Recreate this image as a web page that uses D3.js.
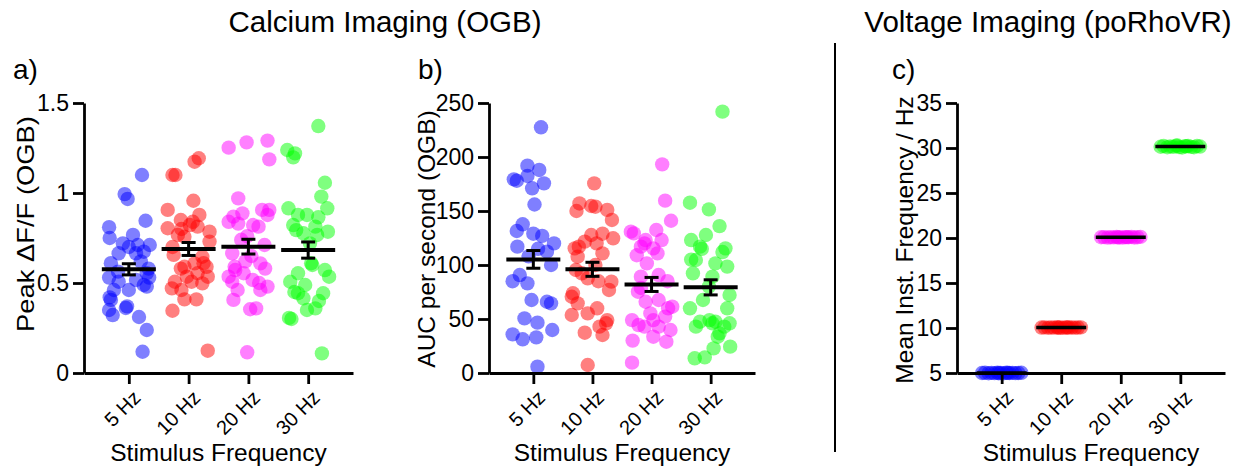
<!DOCTYPE html>
<html>
<head>
<meta charset="utf-8">
<script src="https://cdn.jsdelivr.net/npm/d3@7"></script>
<style>
  body { margin: 0; background: #fff; }
  text { font-family: "Liberation Sans", Arial, sans-serif; fill: #000; }
</style>
</head>
<body>
<svg id="chart" width="1243" height="467"></svg>
<script>
"use strict";

// Categories and colours
var categories = ["5 Hz", "10 Hz", "20 Hz", "30 Hz"];
var groupColors = ["#0000ff", "#ff0000", "#ff00ff", "#00ff00"];

// Panel a : peak dF/F, points are [value, horizontal jitter as fraction of the category step]
var peak5Hz = [[1.10,0.22],[0.994,-0.07],[0.967,-0.02],[0.846,0.28],[0.81,-0.33],[0.75,-0.32],[0.767,0.07],
  [0.72,-0.10],[0.711,0.15],[0.711,0.35],[0.665,-0.17],[0.665,0.12],[0.674,0.25],[0.70,0.0],[0.61,-0.30],
  [0.563,-0.18],[0.554,0.30],[0.517,0.12],[0.507,-0.17],[0.489,0.25],[0.461,-0.25],[0.461,0.0],[0.406,-0.30],
  [0.361,-0.05],[0.35,-0.33],[0.322,-0.27],[0.311,0.17],[0.239,0.30],[0.118,0.23],[0.58,0.33],[0.53,-0.33],
  [0.62,0.20],[0.48,0.30],[0.42,-0.32],[0.37,-0.03],[0.53,0.34]];
var peak10Hz = [[1.10,-0.27],[1.10,-0.22],[1.174,0.10],[1.193,0.17],[0.957,0.08],[0.906,-0.35],[0.878,0.18],
  [0.85,-0.13],[0.804,-0.35],[0.80,-0.12],[0.822,0.02],[0.813,0.15],[0.785,0.35],[0.767,-0.18],[0.757,-0.07],
  [0.73,0.35],[0.70,-0.27],[0.656,-0.25],[0.646,0.23],[0.61,0.25],[0.609,0.10],[0.59,-0.07],[0.59,0.30],
  [0.554,0.15],[0.535,-0.03],[0.535,0.32],[0.507,-0.23],[0.507,0.05],[0.498,0.23],[0.47,-0.28],[0.461,-0.12],
  [0.409,-0.07],[0.409,0.13],[0.346,-0.27],[0.124,0.32],[0.84,0.07],[0.58,-0.13]];
var peak20Hz = [[1.252,-0.33],[1.281,-0.03],[1.291,0.32],[1.187,0.35],[0.97,-0.17],[0.869,-0.25],[0.887,-0.10],
  [0.906,0.23],[0.906,0.35],[0.878,0.32],[0.84,-0.33],[0.83,-0.17],[0.822,0.08],[0.813,0.17],[0.76,-0.02],
  [0.711,0.27],[0.665,-0.27],[0.65,0.05],[0.609,0.20],[0.59,-0.23],[0.58,0.28],[0.572,-0.22],[0.554,-0.08],
  [0.535,-0.33],[0.517,0.07],[0.50,0.18],[0.507,-0.27],[0.461,-0.18],[0.461,0.20],[0.406,-0.25],[0.354,0.03],
  [0.359,0.13],[0.115,-0.02],[0.74,-0.12],[0.62,-0.05],[0.48,0.32]];
var peak30Hz = [[1.372,0.17],[1.239,-0.35],[1.22,-0.22],[1.198,-0.25],[1.057,0.28],[0.98,0.22],[0.915,0.32],
  [0.915,-0.33],[0.878,-0.17],[0.878,-0.02],[0.865,0.17],[0.822,-0.25],[0.794,-0.20],[0.813,0.12],[0.785,0.33],
  [0.776,-0.08],[0.767,0.15],[0.61,0.05],[0.60,0.07],[0.554,-0.17],[0.572,0.28],[0.535,0.35],[0.507,-0.30],
  [0.489,-0.05],[0.45,-0.23],[0.443,-0.17],[0.415,-0.08],[0.443,0.25],[0.40,0.18],[0.35,-0.02],[0.359,0.12],
  [0.30,-0.28],[0.306,-0.32],[0.109,0.23],[0.72,0.03]];
var peakMean = [0.576, 0.689, 0.702, 0.683];
var peakSem = [0.031, 0.036, 0.041, 0.045];

// Panel b : AUC per second
var auc5Hz = [[227.5,0.13],[192,-0.10],[188,0.10],[179.3,-0.33],[178,-0.28],[182.4,-0.10],[175.6,0.18],
  [171,-0.02],[156,0.02],[137.7,-0.18],[131.5,-0.28],[129,0.0],[127,0.15],[120,0.35],[117,-0.27],[112.3,0.23],
  [115,0.08],[90.7,-0.23],[83,-0.10],[85,-0.35],[66,0.23],[64.5,0.30],[67.6,-0.03],[50.6,-0.15],[46.6,0.07],
  [39.8,0.32],[35.8,-0.35],[31.2,-0.18],[33,0.05],[5.9,0.07],[100,0.30],[108,-0.08]];
var auc10Hz = [[175.6,0.03],[157,-0.22],[154.6,-0.02],[154,0.05],[151,0.25],[141.7,0.33],[150,-0.27],
  [124.7,0.35],[129,0.17],[121.6,-0.13],[115.4,-0.30],[120,0.07],[127.8,-0.02],[107.7,-0.25],[110.8,0.17],
  [117,-0.23],[92.3,-0.18],[95.4,-0.28],[84.6,0.32],[87.7,-0.08],[73.8,-0.33],[76.9,0.28],[70.6,-0.35],
  [64.5,-0.25],[59.9,0.08],[53.7,-0.35],[55.2,-0.08],[49,0.25],[46,0.23],[42.9,0.12],[35.2,0.17],[37.3,-0.13],
  [7.4,-0.08],[100,0.05],[85,0.10]];
var auc20Hz = [[193.2,0.18],[159.6,0.23],[141,0.33],[132.4,0.08],[130.9,-0.35],[129.3,-0.30],[123.1,-0.10],
  [123.1,0.17],[120,-0.12],[117,-0.18],[115.4,0.03],[110.8,0.10],[109,-0.25],[101.5,-0.08],[90.7,0.12],
  [89.2,-0.18],[85,0.27],[78.7,-0.18],[75.3,-0.23],[67.6,0.12],[66,-0.10],[59.9,0.28],[61.4,0.35],[55.2,-0.02],
  [49,-0.33],[49,0.03],[52.2,0.23],[44.4,-0.22],[42.9,0.12],[42.9,-0.12],[39.8,0.32],[33.6,0.03],[29,0.25],
  [30,-0.32],[9.6,-0.33]];
var auc30Hz = [[242,0.20],[157.7,-0.35],[151.5,-0.03],[136,0.15],[127.8,-0.08],[123.1,-0.33],[117,-0.18],
  [115.4,0.25],[112,0.20],[104.6,-0.25],[101.5,0.08],[98.5,0.28],[105,-0.33],[92.3,-0.30],[89.2,0.03],
  [72.2,0.32],[67.6,-0.13],[59.9,-0.35],[59.9,0.28],[47.5,-0.18],[46,0.03],[49,-0.02],[47.5,0.08],[42.9,0.23],
  [46,0.32],[42.9,-0.25],[36.7,0.15],[33.6,0.12],[24.4,0.33],[22.8,0.05],[13.6,-0.27],[14.5,-0.10],[80,-0.03],
  [115,-0.15]];
var aucMean = [105.2, 96.0, 82.0, 79.3];
var aucSem = [8.2, 6.5, 6.5, 7.0];

// Panel c : mean instantaneous frequency (voltage imaging)
var freq5Hz = [[5.00,-0.33],[5.02,-0.28],[4.98,-0.22],[5.01,-0.17],[4.99,-0.12],[5.03,-0.07],[5.00,-0.02],
  [4.97,0.03],[5.02,0.08],[5.00,0.13],[5.01,0.18],[4.99,0.23],[5.00,0.28],[5.02,0.33],[4.98,-0.05],[5.01,0.10]];
var freq10Hz = [[10.05,-0.33],[10.07,-0.28],[10.03,-0.22],[10.06,-0.17],[10.04,-0.12],[10.08,-0.07],[10.05,-0.02],
  [10.02,0.03],[10.07,0.08],[10.05,0.13],[10.06,0.18],[10.04,0.23],[10.05,0.28],[10.07,0.33],[10.03,-0.05],[10.06,0.10]];
var freq20Hz = [[20.08,-0.33],[20.10,-0.28],[20.05,-0.22],[20.09,-0.17],[20.07,-0.12],[20.12,-0.07],[20.08,-0.02],
  [20.05,0.03],[20.10,0.08],[20.08,0.13],[20.11,0.18],[20.06,0.23],[20.09,0.28],[20.12,0.33],[20.06,-0.05],[20.10,0.10]];
var freq30Hz = [[30.14,-0.33],[30.22,-0.28],[30.08,-0.22],[30.18,-0.17],[30.12,-0.12],[30.25,-0.07],[30.10,-0.02],
  [30.06,0.03],[30.20,0.08],[30.24,0.13],[30.12,0.18],[30.08,0.23],[30.22,0.28],[30.16,0.33],[30.28,-0.05],[30.18,0.10]];
var freqMean = [5.00, 10.05, 20.08, 30.16];

// Tick values
var peakTicks = [0, 0.5, 1, 1.5];
var aucTicks = [0, 50, 100, 150, 200, 250];
var freqTicks = [5, 10, 15, 20, 25, 30, 35];

var svg = d3.select("#chart");

// Layout
var plotTop = 103, plotBottom = 373;

function drawPanel(opt) {
  var g = svg.append("g");

  var x = d3.scalePoint()
    .domain(categories)
    .range([opt.left, opt.right])
    .padding(0.75);
  var step = x.step();

  var y = d3.scaleLinear()
    .domain(opt.domain)
    .range([plotBottom, plotTop]);

  // dots
  opt.groups.forEach(function (pts, i) {
    g.append("g")
      .selectAll("circle")
      .data(pts)
      .enter()
      .append("circle")
        .attr("cx", d => x(categories[i]) + d[1] * step)
        .attr("cy", d => y(d[0]))
        .attr("r", 7.2)
        .attr("fill", groupColors[i])
        .attr("fill-opacity", 0.5);
  });

  // axes
  var yAxis = g.append("g")
    .attr("transform", `translate(${opt.left},0)`)
    .call(d3.axisLeft(y).tickValues(opt.ticks).tickFormat(d3.format("~g"))
      .tickSize(11).tickSizeOuter(0).tickPadding(4));
  yAxis.selectAll("text").style("font-size", "23px");

  var xAxis = g.append("g")
    .attr("transform", `translate(0,${plotBottom})`)
    .call(d3.axisBottom(x).tickSize(11).tickSizeOuter(0));
  xAxis.selectAll("text").remove();

  [yAxis, xAxis].forEach(function (a) {
    a.select(".domain").attr("stroke-width", 2.8);
    a.selectAll(".tick line").attr("stroke-width", 2.8);
  });

  // rotated category labels
  g.append("g")
    .selectAll("text")
    .data(categories)
    .enter()
    .append("text")
      .attr("transform", d => `translate(${x(d) + 13},${plotBottom + 26}) rotate(-45)`)
      .attr("text-anchor", "end")
      .style("font-size", "20px")
      .text(d => d);

  // mean lines and error bars
  var sum = g.append("g");
  categories.forEach(function (c, i) {
    var cx = x(c);
    var m = opt.means[i];
    if (opt.sems) {
      var s = opt.sems[i];
      sum.append("line")
        .attr("x1", cx).attr("x2", cx)
        .attr("y1", y(m - s)).attr("y2", y(m + s))
        .attr("stroke", "#000").attr("stroke-width", 3);
      [m - s, m + s].forEach(function (v) {
        sum.append("line")
          .attr("x1", cx - 7).attr("x2", cx + 7)
          .attr("y1", y(v)).attr("y2", y(v))
          .attr("stroke", "#000").attr("stroke-width", 3);
      });
    }
    sum.append("line")
      .attr("x1", cx - opt.meanHalf).attr("x2", cx + opt.meanHalf)
      .attr("y1", y(m)).attr("y2", y(m))
      .attr("stroke", "#000").attr("stroke-width", opt.meanWidth);
  });

  // axis titles
  var yl = g.append("text")
    .attr("transform", `translate(${opt.yLabelX},${opt.yLabelY}) rotate(-90)`)
    .attr("text-anchor", "middle")
    .style("font-size", "24.5px")
    .text(opt.yLabel);
  if (opt.yLabelLength) {
    yl.attr("textLength", opt.yLabelLength).attr("lengthAdjust", "spacingAndGlyphs");
  }

  g.append("text")
    .attr("x", (opt.left + opt.right) / 2)
    .attr("y", 461)
    .attr("text-anchor", "middle")
    .style("font-size", "24.5px")
    .text("Stimulus Frequency");

  // panel letter
  g.append("text")
    .attr("x", opt.letterX)
    .attr("y", 79)
    .style("font-size", "28px")
    .text(opt.letter);
}

drawPanel({
  left: 84, right: 353, domain: [0, 1.5], ticks: peakTicks,
  groups: [peak5Hz, peak10Hz, peak20Hz, peak30Hz],
  means: peakMean, sems: peakSem, meanHalf: 27, meanWidth: 4,
  yLabel: "Peak \u0394F/F (OGB)", yLabelX: 34, yLabelY: 224, yLabelLength: 216,
  letter: "a)", letterX: 13
});

drawPanel({
  left: 489, right: 755, domain: [0, 250], ticks: aucTicks,
  groups: [auc5Hz, auc10Hz, auc20Hz, auc30Hz],
  means: aucMean, sems: aucSem, meanHalf: 27, meanWidth: 4,
  yLabel: "AUC per second (OGB)", yLabelX: 435, yLabelY: 239,
  letter: "b)", letterX: 418
});

drawPanel({
  left: 957, right: 1225, domain: [5, 35], ticks: freqTicks,
  groups: [freq5Hz, freq10Hz, freq20Hz, freq30Hz],
  means: freqMean, sems: null, meanHalf: 25, meanWidth: 3.5,
  yLabel: "Mean Inst. Frequency / Hz", yLabelX: 913, yLabelY: 240,
  letter: "c)", letterX: 892
});

// Section titles
svg.append("text")
  .attr("x", 385)
  .attr("y", 32)
  .attr("text-anchor", "middle")
  .style("font-size", "29.5px")
  .text("Calcium Imaging (OGB)");

svg.append("text")
  .attr("x", 1048)
  .attr("y", 32)
  .attr("text-anchor", "middle")
  .style("font-size", "29.5px")
  .text("Voltage Imaging (poRhoVR)");

// Divider between calcium and voltage sections
svg.append("line")
  .attr("x1", 835).attr("x2", 835)
  .attr("y1", 43).attr("y2", 452)
  .attr("stroke", "#000")
  .attr("stroke-width", 2);
</script>
</body>
</html>
